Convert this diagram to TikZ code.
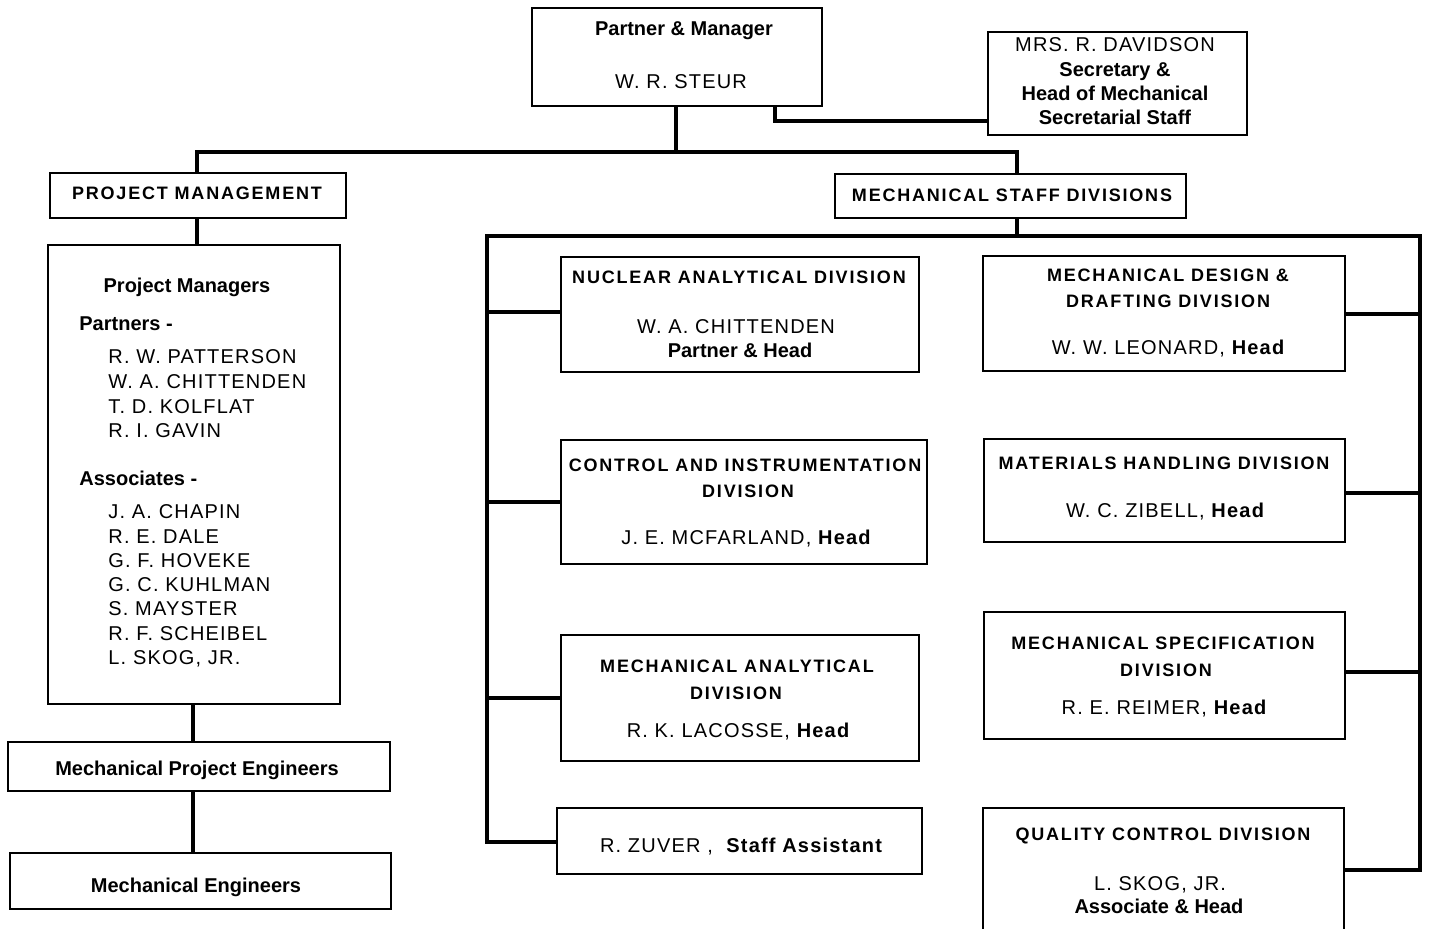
\documentclass[tikz,border=0pt]{standalone}
\usepackage{fontspec}
\setmainfont{Liberation Sans}
\newfontfamily\capsfam[LetterSpace=10]{Liberation Sans}
\newfontfamily\namefam[LetterSpace=6]{Liberation Sans}
\newcommand{\hd}{\bfseries}
\tikzset{
  box/.style={draw, line width=1pt, inner sep=0pt, fill=white},
  conn/.style={line width=2pt, line cap=rect},
  capt/.style={anchor=base, inner sep=0pt, font=\capsfam\bfseries\fontsize{9}{11}\selectfont},
  nm/.style={anchor=base, inner sep=0pt, font=\namefam\fontsize{10}{12}\selectfont},
  nml/.style={nm, anchor=base west},
  bt/.style={anchor=base, inner sep=0pt, font=\bfseries\fontsize{10}{12}\selectfont},
  btl/.style={bt, anchor=base west}
}
\begin{document}
\begin{tikzpicture}[x=0.5pt, y=-0.5pt]
\clip (0,0) rectangle (1429,929);
\fill[white] (0,0) rectangle (1429,929);

% ---------- coordinates for connector corners ----------
\coordinate (topdrop) at (676,106);
\coordinate (b1) at (676,152);
\coordinate (secdrop) at (775,106);
\coordinate (secin) at (988,121);
\coordinate (msdtop) at (1017,174);
\coordinate (msdbot) at (1017,218);
\coordinate (busM) at (1017,236);
\coordinate (busL) at (487,236);
\coordinate (busR) at (1420,236);
\coordinate (qcR) at (1344,870);

% ---------- connectors (drawn first) ----------
\draw[conn] (topdrop) -- (b1);
\draw[conn] (secdrop) |- (secin);
\draw[conn] (197,174) |- (b1) -| (msdtop);
\draw[conn] (msdbot) -- (busM);
\draw[conn] (557,842) -| (busL) -- (busR) |- (qcR);
\draw[conn] (197,218) -- (197,245);
\draw[conn] (193,704) -- (193,742);
\draw[conn] (193,791) -- (193,853);
\draw[conn] (busL |- 0,312) -- (561,312);
\draw[conn] (busL |- 0,502) -- (561,502);
\draw[conn] (busL |- 0,698) -- (561,698);
\draw[conn] (1345,314) -- (busR |- 0,314);
\draw[conn] (1345,493) -- (busR |- 0,493);
\draw[conn] (1345,672) -- (busR |- 0,672);

% ---------- boxes ----------
\node[box, minimum width=145pt, minimum height=49pt] (top) at (677,57) {};
\node[box, minimum width=129.5pt, minimum height=51.5pt] (sec) at (1117.5,83.5) {};
\node[box, minimum width=148pt, minimum height=22.5pt] (pmg) at (198,195.5) {};
\node[box, minimum width=175.5pt, minimum height=22pt] (msd) at (1010.5,196) {};
\node[box, minimum width=146pt, minimum height=229.5pt] (pms) at (194,474.5) {};
\node[box, minimum width=191pt, minimum height=24.5pt] (mpe) at (199,766.5) {};
\node[box, minimum width=190.5pt, minimum height=28pt] (me) at (200.5,881) {};

\node[box, minimum width=179pt, minimum height=57.5pt] (nad) at (740,314.5) {};
\node[box, minimum width=183pt, minimum height=62pt] (cid) at (744,502) {};
\node[box, minimum width=179pt, minimum height=63pt] (mad) at (740,698) {};
\node[box, minimum width=182.5pt, minimum height=33pt] (zuv) at (739.5,841) {};

\node[box, minimum width=181pt, minimum height=57.5pt] (mdd) at (1164,313.5) {};
\node[box, minimum width=180.5pt, minimum height=51.5pt] (mhd) at (1164.5,490.5) {};
\node[box, minimum width=180.5pt, minimum height=63.5pt] (msp) at (1164.5,675.5) {};
\node[box, minimum width=180.5pt, minimum height=70pt] (qc) at (1163.5,878) {};

% ---------- texts ----------
\node[bt] (t1) at (684,36) {Partner \& Manager};
\node[nm] (t2) at (681,89) {W. R. STEUR};

\node[nm] (s1) at (1115,52) {MRS. R. DAVIDSON};
\node[bt] (s2) at (1115,77) {Secretary \&};
\node[bt] (s3) at (1115,101) {Head of Mechanical};
\node[bt] (s4) at (1115,125) {Secretarial Staff};

\node[capt] (pmgt) at (197,200) {PROJECT MANAGEMENT};
\node[capt] (msdt) at (1012,202) {MECHANICAL STAFF DIVISIONS};

\node[bt] (pm0) at (187,293) {Project Managers};
\node[btl] (pm1) at (79,331) {Partners -};
\node[nml] (pa1) at (108,364) {R. W. PATTERSON};
\node[nml] (pa2) at (108,389) {W. A. CHITTENDEN};
\node[nml] (pa3) at (108,414) {T. D. KOLFLAT};
\node[nml] (pa4) at (108,438) {R. I. GAVIN};
\node[btl] (pm2) at (79,486) {Associates -};
\node[nml] (as1) at (108,519) {J. A. CHAPIN};
\node[nml] (as2) at (108,544) {R. E. DALE};
\node[nml] (as3) at (108,568) {G. F. HOVEKE};
\node[nml] (as4) at (108,592) {G. C. KUHLMAN};
\node[nml] (as5) at (108,616) {S. MAYSTER};
\node[nml] (as6) at (108,641) {R. F. SCHEIBEL};
\node[nml] (as7) at (108,665) {L. SKOG, JR.};

\node[bt] (mpet) at (197,775) {Mechanical Project Engineers};
\node[bt] (met) at (196,892) {Mechanical Engineers};

\node[capt] (nad1) at (739,284) {NUCLEAR ANALYTICAL DIVISION};
\node[nm] (nad2) at (736,334) {W. A. CHITTENDEN};
\node[bt] (nad3) at (740,358) {Partner \& Head};

\node[capt] (cid1) at (745,472) {CONTROL AND INSTRUMENTATION};
\node[capt] (cid2) at (748,498) {DIVISION};
\node[nm] (cid3) at (746,545) {J. E. MCFARLAND, {\hd Head}};

\node[capt] (mad1) at (737,673) {MECHANICAL ANALYTICAL};
\node[capt] (mad2) at (736,699) {DIVISION};
\node[nm] (mad3) at (738,738) {R. K. LACOSSE, {\hd Head}};

\node[nm] (zuvt) at (741,852) {R. ZUVER ,\ \ {\hd Staff Assistant}};

\node[capt] (mdd1) at (1168,282) {MECHANICAL DESIGN \&};
\node[capt] (mdd2) at (1168,308) {DRAFTING DIVISION};
\node[nm] (mdd3) at (1168,355) {W. W. LEONARD, {\hd Head}};

\node[capt] (mhd1) at (1164,470) {MATERIALS HANDLING DIVISION};
\node[nm] (mhd2) at (1165,518) {W. C. ZIBELL, {\hd Head}};

\node[capt] (msp1) at (1163,650) {MECHANICAL SPECIFICATION};
\node[capt] (msp2) at (1166,676) {DIVISION};
\node[nm] (msp3) at (1164,715) {R. E. REIMER, {\hd Head}};

\node[capt] (qc1) at (1163,840) {QUALITY CONTROL DIVISION};
\node[nm] (qc2) at (1160,890) {L. SKOG, JR.};
\node[bt] (qc3) at (1159,913) {Associate \& Head};
\end{tikzpicture}
\end{document}
